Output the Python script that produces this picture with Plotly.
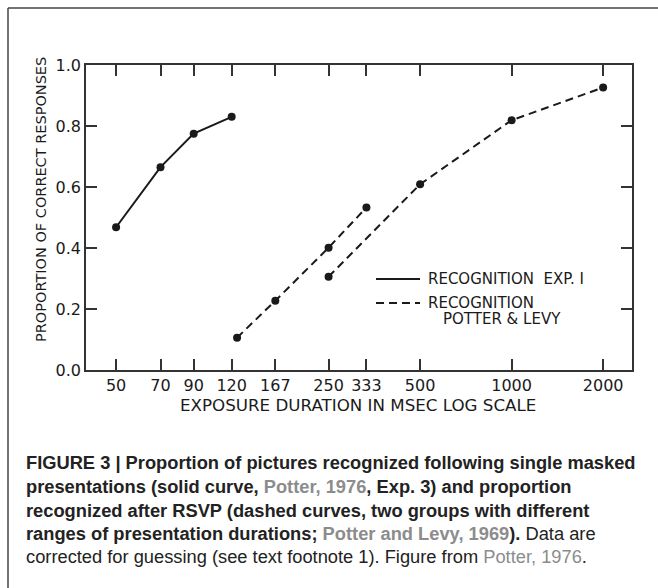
import plotly.graph_objects as go

# ---- data ----
exp1_ms = [50, 70, 90, 120]
exp1_prop = [0.468, 0.665, 0.775, 0.830]

pl_short_ms = [125, 167, 250, 333]
pl_short_prop = [0.106, 0.227, 0.401, 0.533]

pl_long_ms = [250, 500, 1000, 2000]
pl_long_prop = [0.306, 0.609, 0.819, 0.926]

x_tickvals = [50, 70, 90, 120, 167, 250, 333, 500, 1000, 2000]
x_ticktext = ["50", "70", "90", "120", "167", "250", "333", "500", "1000", "2000"]
y_tickvals = [0.0, 0.2, 0.4, 0.6, 0.8, 1.0]
y_ticktext = ["0.0", "0.2", "0.4", "0.6", "0.8", "1.0"]

W, H = 658, 588
L, R, T, B = 86, 632, 65, 370  # plot area in pixels


def xp(px):
    return (px - L) / (R - L)


def yp(py):
    return (B - py) / (B - T)


CHART_FONT = "DejaVu Sans"
CAP_FONT = "Liberation Sans"
INK = "#1a1a1a"

fig = go.Figure()
fig.add_trace(go.Scatter(x=exp1_ms, y=exp1_prop, mode="lines+markers",
                         line=dict(color=INK, width=2),
                         marker=dict(color=INK, size=8), showlegend=False))
fig.add_trace(go.Scatter(x=pl_short_ms, y=pl_short_prop, mode="lines+markers",
                         line=dict(color=INK, width=2, dash="8px,5px"),
                         marker=dict(color=INK, size=8), showlegend=False))
fig.add_trace(go.Scatter(x=pl_long_ms, y=pl_long_prop, mode="lines+markers",
                         line=dict(color=INK, width=2, dash="8px,5px"),
                         marker=dict(color=INK, size=8), showlegend=False))

axis_common = dict(showline=True, linecolor="#333", linewidth=1.5, mirror="ticks",
                   ticks="inside", ticklen=11, tickwidth=1.5, tickcolor="#333",
                   showgrid=False, zeroline=False,
                   tickfont=dict(family=CHART_FONT, size=16, color=INK))

fig.update_xaxes(type="log", range=[1.6, 3.396], tickvals=x_tickvals,
                 ticktext=x_ticktext, **axis_common)
fig.update_yaxes(range=[0, 1.0], tickvals=y_tickvals, ticktext=y_ticktext,
                 **axis_common)

shapes = []
# outer frame (left and top edges)
shapes.append(dict(type="line", xref="paper", yref="paper",
                   x0=xp(8), x1=xp(8), y0=yp(8), y1=yp(H),
                   line=dict(color="#444", width=1.5)))
shapes.append(dict(type="line", xref="paper", yref="paper",
                   x0=xp(8), x1=xp(W), y0=yp(8), y1=yp(8),
                   line=dict(color="#444", width=1.5)))
# legend lines
shapes.append(dict(type="line", xref="paper", yref="paper",
                   x0=xp(376), x1=xp(420), y0=yp(279), y1=yp(279),
                   line=dict(color=INK, width=2)))
shapes.append(dict(type="line", xref="paper", yref="paper",
                   x0=xp(376), x1=xp(420), y0=yp(303), y1=yp(303),
                   line=dict(color=INK, width=2, dash="8px,5px")))

ann = []
ann.append(dict(text="RECOGNITION  EXP. I", x=xp(426), y=yp(279)))
ann.append(dict(text="RECOGNITION", x=xp(426), y=yp(303)))
ann.append(dict(text="POTTER & LEVY", x=xp(441), y=yp(319)))
for a in ann:
    a.update(xref="paper", yref="paper", xanchor="left", yanchor="middle",
             showarrow=False, font=dict(family=CHART_FONT, size=15, color=INK))

# axis titles
ann.append(dict(text="EXPOSURE DURATION IN MSEC LOG SCALE", x=xp(358), y=yp(405),
                xref="paper", yref="paper", xanchor="center", yanchor="middle",
                showarrow=False, font=dict(family=CHART_FONT, size=16.7, color=INK)))
ann.append(dict(text="PROPORTION OF CORRECT RESPONSES", x=xp(41), y=yp(200),
                xref="paper", yref="paper", xanchor="center", yanchor="middle",
                textangle=-90, showarrow=False,
                font=dict(family=CHART_FONT, size=14.5, color=INK)))

# caption
GRAY = "#8c8c8c"
cap_lines = [
    "<b>FIGURE 3 | Proportion of pictures recognized following single masked</b>",
    f"<b>presentations (solid curve, <span style='color:{GRAY}'>Potter, 1976</span>, Exp. 3) and proportion</b>",
    "<b>recognized after RSVP (dashed curves, two groups with different</b>",
    f"<b>ranges of presentation durations; <span style='color:{GRAY}'>Potter and Levy, 1969</span>).</b> Data are",
    f"corrected for guessing (see text footnote 1). Figure from <span style='color:{GRAY}'>Potter, 1976</span>.",
]
cap_y = [462, 486, 510, 533, 556]
for txt, cy in zip(cap_lines, cap_y):
    ann.append(dict(text=txt, x=xp(24), y=yp(cy), xref="paper", yref="paper",
                    xanchor="left", yanchor="middle", showarrow=False,
                    font=dict(family=CAP_FONT, size=18.3, color="#222")))

fig.update_layout(width=W, height=H, margin=dict(l=L, r=W - R, t=T, b=H - B),
                  paper_bgcolor="white", plot_bgcolor="white",
                  shapes=shapes, annotations=ann, showlegend=False)

fig.write_html("out.html")
